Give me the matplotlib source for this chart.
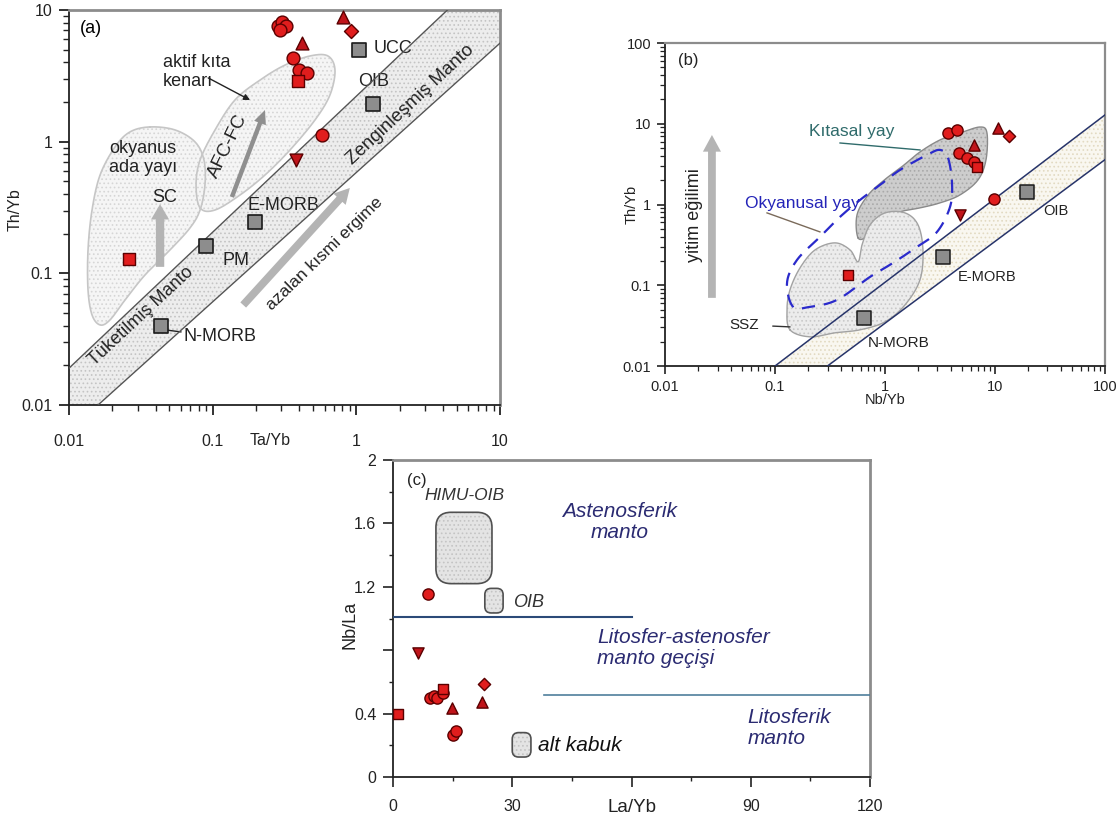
import numpy as np
import matplotlib
matplotlib.use("Agg")
import matplotlib.pyplot as plt
from matplotlib.patches import FancyBboxPatch
from matplotlib.transforms import blended_transform_factory

plt.rcParams['font.family'] = ['Liberation Sans', 'DejaVu Sans']
plt.rcParams['hatch.linewidth'] = 0.7

# ---------------- DATA ----------------
# Panel (a): Ta/Yb vs Th/Yb
a_circle_x = [0.285, 0.305, 0.325, 0.295, 0.36, 0.40, 0.45, 0.58]
a_circle_y = [7.5, 8.1, 7.6, 7.0, 4.3, 3.5, 3.3, 1.12]
a_square_x = [0.39, 0.026]
a_square_y = [2.9, 0.128]
a_triup_x = [0.81, 0.42]
a_triup_y = [8.85, 5.6]
a_tridown_x = [0.38]
a_tridown_y = [0.73]
a_diamond_x = [0.92]
a_diamond_y = [6.9]
a_ref_labels = ['UCC', 'OIB', 'E-MORB', 'PM', 'N-MORB']
a_ref_x = [1.04, 1.31, 0.197, 0.0897, 0.044]
a_ref_y = [5.0, 1.93, 0.245, 0.161, 0.040]

# Panel (b): Nb/Yb vs Th/Yb
b_circle_x = [3.74, 4.5, 4.7, 5.6, 6.4, 9.8]
b_circle_y = [7.7, 8.4, 4.35, 3.8, 3.4, 1.17]
b_square_x = [6.9, 0.46]
b_square_y = [2.9, 0.135]
b_triup_x = [10.6, 6.4]
b_triup_y = [8.9, 5.5]
b_tridown_x = [4.8]
b_tridown_y = [0.74]
b_diamond_x = [13.4]
b_diamond_y = [7.1]
b_ref_labels = ['OIB', 'E-MORB', 'N-MORB']
b_ref_x = [19.5, 3.37, 0.645]
b_ref_y = [1.43, 0.224, 0.0395]

# Panel (c): La/Yb vs Nb/La
c_circle_x = [8.8, 9.3, 10.2, 11.1, 12.6, 15.1, 15.8]
c_circle_y = [1.155, 0.50, 0.51, 0.50, 0.53, 0.265, 0.29]
c_square_x = [1.3, 12.6]
c_square_y = [0.40, 0.555]
c_triup_x = [14.8, 22.4]
c_triup_y = [0.435, 0.473]
c_tridown_x = [6.3]
c_tridown_y = [0.78]
c_diamond_x = [22.9]
c_diamond_y = [0.587]

# Field outlines (log10 coordinates for a & b)
a_ocean_lx = [-1.436, -1.262, -1.123, -1.061, -1.054, -1.088, -1.158, -1.297, -1.471, -1.610,
              -1.715, -1.784, -1.840, -1.868, -1.868, -1.840, -1.784, -1.680, -1.576]
a_ocean_ly = [0.112, 0.089, -0.002, -0.139, -0.329, -0.519, -0.655, -0.822, -1.012, -1.202,
              -1.354, -1.392, -1.316, -1.126, -0.822, -0.519, -0.253, -0.040, 0.074]
a_active_lx = [-1.088, -1.116, -1.088, -0.984, -0.845, -0.671, -0.497, -0.323, -0.198, -0.149,
               -0.184, -0.288, -0.462, -0.636, -0.810, -0.984]
a_active_ly = [-0.503, -0.329, -0.139, 0.089, 0.317, 0.468, 0.582, 0.651, 0.651, 0.544,
               0.355, 0.165, -0.063, -0.253, -0.405, -0.519]
a_upper_line = [(-2.0, -1.72), (0.633, 1.0)]
a_lower_line = [(-1.798, -2.0), (1.0, 0.749)]

b_cont_lx = [-0.245, -0.255, -0.155, -0.010, 0.164, 0.318, 0.500, 0.682, 0.864, 0.927,
             0.918, 0.845, 0.682, 0.500, 0.318, 0.136, -0.045, -0.155]
b_cont_ly = [-0.413, -0.130, 0.115, 0.300, 0.480, 0.651, 0.800, 0.886, 0.960, 0.886,
             0.552, 0.304, 0.119, 0.020, -0.042, -0.092, -0.215, -0.389]
b_ssz_lx = [-0.864, -0.891, -0.864, -0.773, -0.636, -0.455, -0.318, -0.245, -0.209, -0.136,
            0.000, 0.182, 0.300, 0.345, 0.318, 0.182, 0.000, -0.227, -0.455, -0.682]
b_ssz_ly = [-1.552, -1.304, -1.057, -0.785, -0.562, -0.475, -0.562, -0.710, -0.500, -0.252,
            -0.104, -0.104, -0.252, -0.562, -0.933, -1.243, -1.453, -1.552, -1.589, -1.639]
b_ocean_lx = [-0.836, -0.891, -0.800, -0.591, -0.409, -0.227, -0.045, 0.136, 0.382, 0.500,
              0.573, 0.609, 0.591, 0.473, 0.291, 0.073, -0.136, -0.436, -0.682]
b_ocean_ly = [-1.267, -0.970, -0.686, -0.401, -0.153, 0.057, 0.243, 0.428, 0.614, 0.676,
              0.577, 0.267, -0.030, -0.339, -0.525, -0.723, -0.896, -1.181, -1.267]
b_upper_line = [(-1.0, -2.0), (2.0, 1.11)]
b_lower_line = [(-0.523, -2.0), (2.0, 0.556)]

c_boxes = {'HIMU': (10.8, 1.22, 24.9, 1.67), 'OIB': (23.1, 1.035, 27.7, 1.19),
           'alt': (30.0, 0.126, 34.7, 0.28)}

RED = '#e11d1d'
RED_DARK = '#c0141a'
EDGE = '#5a0000'


def smooth_closed(lx, ly, n=16):
    P = np.column_stack([lx, ly]).astype(float)
    N = len(P)
    out = []
    t = np.linspace(0, 1, n, endpoint=False)[:, None]
    for i in range(N):
        p0, p1, p2, p3 = P[i - 1], P[i], P[(i + 1) % N], P[(i + 2) % N]
        out.append(0.5 * (2 * p1 + (-p0 + p2) * t + (2 * p0 - 5 * p1 + 4 * p2 - p3) * t ** 2
                          + (-p0 + 3 * p1 - 3 * p2 + p3) * t ** 3))
    out = np.vstack(out)
    return np.vstack([out, out[:1]])


def field(ax, lx, ly, fc, hc, ec, lw=1.0, ls='-', z=1, hatch='....'):
    pts = smooth_closed(lx, ly)
    X, Y = 10 ** pts[:, 0], 10 ** pts[:, 1]
    ax.fill(X, Y, facecolor=fc, edgecolor=hc, hatch=hatch, linewidth=0, zorder=z)
    ax.plot(X, Y, color=ec, lw=lw, ls=ls, zorder=z + 0.1)


def line_fn(seg):
    (x0, y0), (x1, y1) = seg
    m = (y1 - y0) / (x1 - x0)
    return lambda lx: y0 + m * (lx - x0)


def band(ax, up, lo, fc, hc, lc, lw):
    fu, fl = line_fn(up), line_fn(lo)
    lx = np.linspace(-3, 3, 200)
    ax.fill_between(10 ** lx, 10 ** fl(lx), 10 ** fu(lx), facecolor=fc, edgecolor=hc,
                    hatch='....', linewidth=0, zorder=1)
    ax.plot(10 ** lx, 10 ** fu(lx), color=lc, lw=lw, zorder=3.5)
    ax.plot(10 ** lx, 10 ** fl(lx), color=lc, lw=lw, zorder=3.5)


def samples(ax, d, s):
    ax.scatter(d['o'][0], d['o'][1], marker='o', s=s, c=RED, edgecolors=EDGE, linewidths=1, zorder=6)
    ax.scatter(d['s'][0], d['s'][1], marker='s', s=s * 0.85, c=RED, edgecolors=EDGE, linewidths=1, zorder=6)
    ax.scatter(d['^'][0], d['^'][1], marker='^', s=s, c=RED_DARK, edgecolors=EDGE, linewidths=1, zorder=6)
    ax.scatter(d['v'][0], d['v'][1], marker='v', s=s, c=RED_DARK, edgecolors=EDGE, linewidths=1, zorder=6)
    ax.scatter(d['D'][0], d['D'][1], marker='D', s=s * 0.6, c=RED, edgecolors=EDGE, linewidths=1, zorder=6)


def gray_arrow(ax, p0, p1, tw, hw, hl, color='#b4b4b4'):
    ax.annotate('', xy=p1, xytext=p0,
                arrowprops=dict(arrowstyle=f'simple,head_length={hl},head_width={hw},tail_width={tw}',
                                fc=color, ec='none', shrinkA=0, shrinkB=0, mutation_scale=20),
                zorder=4)


def style_spines(ax, lw_top=2.0):
    for s in ['top', 'right']:
        ax.spines[s].set_color('#8c8c8c')
        ax.spines[s].set_linewidth(lw_top)
    for s in ['left', 'bottom']:
        ax.spines[s].set_color('#222222')
        ax.spines[s].set_linewidth(1.3)


fig = plt.figure(figsize=(11.19, 8.21), dpi=100)

# ================= PANEL (a) =================
axA = fig.add_axes([0.0617, 0.5067, 0.3852, 0.4811])
axA.set_xscale('log'); axA.set_yscale('log')
axA.set_xlim(0.01, 10); axA.set_ylim(0.01, 10)
band(axA, a_upper_line, a_lower_line, '#ededed', '#c4c4c4', '#555555', 1.0)
field(axA, a_ocean_lx, a_ocean_ly, '#f5f5f5', '#d6d6d6', '#c6c6c6', lw=1.2, z=2)
field(axA, a_active_lx, a_active_ly, '#f5f5f5', '#d6d6d6', '#c6c6c6', lw=1.2, z=2)

gray_arrow(axA, (0.043, 0.112), (0.043, 0.335), 0.3, 0.65, 0.55)
gray_arrow(axA, (0.163, 0.0575), (0.90, 0.445), 0.28, 0.6, 0.55)
gray_arrow(axA, (0.136, 0.38), (0.231, 1.74), 0.16, 0.45, 0.5, color='#8f8f8f')

axA.scatter(a_ref_x, a_ref_y, marker='s', s=115, c='#8d8d8d', edgecolors='#1a1a1a', linewidths=1.2, zorder=5)
samples(axA, {'o': (a_circle_x, a_circle_y), 's': (a_square_x, a_square_y), '^': (a_triup_x, a_triup_y),
              'v': (a_tridown_x, a_tridown_y), 'D': (a_diamond_x, a_diamond_y)}, 85)

fs = 13
axA.text(0.025, 0.975, '(a)', transform=axA.transAxes, ha='left', va='top', fontsize=13)
axA.text(0.045, 3.4, 'aktif kıta\nkenarı', ha='left', va='center', fontsize=fs, linespacing=1.15, color='#222')
axA.annotate('', xy=(0.182, 2.07), xytext=(0.093, 3.05),
             arrowprops=dict(arrowstyle='-|>', color='#222', lw=1.0, mutation_scale=9, shrinkA=0, shrinkB=0))
axA.text(0.0327, 0.75, 'okyanus\nada yayı', ha='center', va='center', fontsize=fs, linespacing=1.15, color='#222')
axA.text(0.0466, 0.374, 'SC', ha='center', va='center', fontsize=fs, color='#222')
axA.text(0.145, 0.126, 'PM', ha='center', va='center', fontsize=fs, color='#222')
axA.text(0.176, 0.33, 'E-MORB', ha='left', va='center', fontsize=fs, color='#222')
axA.annotate('N-MORB', xy=(0.0466, 0.0372), xytext=(0.063, 0.0329), ha='left', va='center', fontsize=fs,
             color='#222', arrowprops=dict(arrowstyle='-', color='#222', lw=1.0, shrinkA=0, shrinkB=0))
axA.text(1.31, 5.06, 'UCC', ha='left', va='center', fontsize=fs, color='#222')
axA.text(1.31, 2.84, 'OIB', ha='center', va='center', fontsize=fs, color='#222')
axA.text(2.36, 1.9, 'Zenginleşmiş Manto', ha='center', va='center', fontsize=13.5, rotation=43,
         rotation_mode='anchor', color='#222')
axA.text(0.0317, 0.0475, 'Tüketilmiş Manto', ha='center', va='center', fontsize=13, rotation=43,
         rotation_mode='anchor', color='#222')
axA.text(0.60, 0.140, 'azalan kısmi ergime', ha='center', va='center', fontsize=12.5, rotation=44,
         rotation_mode='anchor', color='#222')
axA.text(0.128, 0.92, 'AFC-FC', ha='center', va='center', fontsize=13.5, rotation=64,
         rotation_mode='anchor', color='#222')

axA.set_xticks([0.01, 0.1, 1, 10], labels=['0.01', '0.1', '1', '10'])
axA.set_yticks([0.01, 0.1, 1, 10], labels=['0.01', '0.1', '1', '10'])
axA.xaxis.set_minor_formatter(matplotlib.ticker.NullFormatter())
axA.yaxis.set_minor_formatter(matplotlib.ticker.NullFormatter())
axA.tick_params(which='major', direction='out', length=7, width=1.3, labelsize=11.5, colors='#222')
axA.tick_params(axis='x', which='major', pad=14)
axA.tick_params(axis='y', which='major', pad=5)
axA.tick_params(which='minor', direction='out', length=4, width=1.0, colors='#222')
axA.text(0.25, -0.09, 'Ta/Yb', transform=blended_transform_factory(axA.transData, axA.transAxes),
         ha='center', va='center', fontsize=11.5, color='#222')
axA.text(-0.125, 0.494, 'Th/Yb', transform=axA.transAxes, rotation=90, ha='center', va='center', fontsize=11.5,
         color='#222')
style_spines(axA)

# ================= PANEL (b) =================
axB = fig.add_axes([0.5943, 0.5542, 0.3932, 0.3934])
axB.set_xscale('log'); axB.set_yscale('log')
axB.set_xlim(0.01, 100); axB.set_ylim(0.01, 100)
band(axB, b_upper_line, b_lower_line, '#f9f7f0', '#e2dac2', '#27346a', 1.1)
field(axB, b_cont_lx, b_cont_ly, '#cdcdcd', '#a9a9a9', '#8a8a8a', lw=1.0, z=2)
field(axB, b_ssz_lx, b_ssz_ly, '#ececec', '#c9c9c9', '#a2a2a2', lw=1.0, z=2.5)
pts = smooth_closed(b_ocean_lx, b_ocean_ly)
axB.plot(10 ** pts[:, 0], 10 ** pts[:, 1], color='#2a2acb', lw=1.6, dashes=(6, 4), zorder=4)

gray_arrow(axB, (0.0267, 0.0698), (0.0267, 7.26), 0.28, 0.65, 0.6)

axB.scatter(b_ref_x, b_ref_y, marker='s', s=95, c='#8d8d8d', edgecolors='#1a1a1a', linewidths=1.1, zorder=5)
samples(axB, {'o': (b_circle_x, b_circle_y), 's': (b_square_x, b_square_y), '^': (b_triup_x, b_triup_y),
              'v': (b_tridown_x, b_tridown_y), 'D': (b_diamond_x, b_diamond_y)}, 65)

axB.text(0.03, 0.97, '(b)', transform=axB.transAxes, ha='left', va='top', fontsize=12, color='#222')
axB.text(0.501, 7.93, 'Kıtasal yay', ha='center', va='center', fontsize=12.5, color='#2f6b6b')
axB.plot([0.39, 2.08], [5.78, 4.74], color='#2f6b6b', lw=1.0, zorder=4)
axB.text(0.176, 1.02, 'Okyanusal yay', ha='center', va='center', fontsize=12.5, color='#2424b8', zorder=7)
axB.plot([0.0846, 0.256], [0.787, 0.458], color='#7a6a5a', lw=1.0, zorder=4)
axB.text(0.0187, 0.75, 'yitim eğilimi', ha='center', va='center', fontsize=13, rotation=90, color='#222')
axB.annotate('SSZ', xy=(0.137, 0.0305), xytext=(0.0523, 0.0324), ha='center', va='center', fontsize=11,
             color='#222', arrowprops=dict(arrowstyle='-', color='#333', lw=1.0, shrinkA=8, shrinkB=0))
axB.text(8.45, 0.127, 'E-MORB', ha='center', va='center', fontsize=10.5, color='#222')
axB.text(1.34, 0.0194, 'N-MORB', ha='center', va='center', fontsize=11, color='#222')
axB.text(35.9, 0.834, 'OIB', ha='center', va='center', fontsize=10.5, color='#222')

axB.set_xticks([0.01, 0.1, 1, 10, 100], labels=['0.01', '0.1', '1', '10', '100'])
axB.set_yticks([0.01, 0.1, 1, 10, 100], labels=['0.01', '0.1', '1', '10', '100'])
axB.xaxis.set_minor_formatter(matplotlib.ticker.NullFormatter())
axB.yaxis.set_minor_formatter(matplotlib.ticker.NullFormatter())
axB.tick_params(which='major', direction='out', length=6, width=1.2, labelsize=10.5, pad=4, colors='#222')
axB.tick_params(which='minor', direction='out', length=3.5, width=0.9, colors='#222')
axB.text(0.5, -0.105, 'Nb/Yb', transform=axB.transAxes, ha='center', va='center', fontsize=10.5, color='#222')
axB.text(-0.075, 0.50, 'Th/Yb', transform=axB.transAxes, rotation=90, ha='center', va='center',
         fontsize=10.5, color='#222')
style_spines(axB, lw_top=1.6)

# ================= PANEL (c) =================
axC = fig.add_axes([0.3512, 0.0536, 0.4263, 0.3861])
axC.set_xlim(0, 120); axC.set_ylim(0, 2)
asp = (2 / 317) / (120 / 477)
radii = {'HIMU': 3.8, 'OIB': 1.6, 'alt': 1.6}
for k, (x0, y0, x1, y1) in c_boxes.items():
    r = radii[k]
    axC.add_patch(FancyBboxPatch((x0, y0), x1 - x0, y1 - y0, boxstyle=f'round,pad=0,rounding_size={r}',
                                 mutation_aspect=asp, facecolor='#e4e4e4', edgecolor='#c4c4c4', hatch='....',
                                 linewidth=0, zorder=2))
    axC.add_patch(FancyBboxPatch((x0, y0), x1 - x0, y1 - y0, boxstyle=f'round,pad=0,rounding_size={r}',
                                 mutation_aspect=asp, facecolor='none', edgecolor='#505050',
                                 linewidth=1.2, zorder=2.1))
axC.plot([0, 60], [1.01, 1.01], color='#2b4a78', lw=1.5, zorder=3)
axC.plot([38, 120], [0.517, 0.517], color='#4f7f9c', lw=1.2, zorder=3)

samples(axC, {'o': (c_circle_x, c_circle_y), 's': (c_square_x, c_square_y), '^': (c_triup_x, c_triup_y),
              'v': (c_tridown_x, c_tridown_y), 'D': (c_diamond_x, c_diamond_y)}, 65)

navy = '#2b2b72'
axC.text(0.03, 0.96, '(c)', transform=axC.transAxes, ha='left', va='top', fontsize=12, color='#222')
axC.text(18.1, 1.773, 'HIMU-OIB', ha='center', va='center', fontsize=12.5, style='italic', color='#333')
axC.text(34.0, 1.098, 'OIB', ha='center', va='center', fontsize=13, style='italic', color='#333')
axC.text(47.0, 0.196, 'alt kabuk', ha='center', va='center', fontsize=15, style='italic', color='#111')
axC.text(57.1, 1.609, 'Astenosferik\nmanto', ha='center', va='center', fontsize=15, style='italic',
         color=navy, linespacing=1.1)
axC.text(51.3, 0.814, 'Litosfer-astenosfer\nmanto geçişi', ha='left', va='center', fontsize=15,
         style='italic', color=navy, linespacing=1.1)
axC.text(89.1, 0.309, 'Litosferik\nmanto', ha='left', va='center', fontsize=15, style='italic',
         color=navy, linespacing=1.1)

axC.set_xticks([0, 30, 60, 90, 120], labels=['0', '30', 'La/Yb', '90', '120'])
axC.set_xticks([15, 45, 75, 105], minor=True)
axC.set_yticks([0, 0.4, 0.8, 1.2, 1.6, 2.0], labels=['0', '0.4', '', '1.2', '1.6', '2'])
axC.set_yticks([0.2, 0.6, 1.0, 1.4, 1.8], minor=True)
axC.tick_params(which='major', direction='out', length=7, width=1.2, labelsize=11.5, colors='#222')
axC.tick_params(axis='x', which='major', pad=9)
axC.tick_params(axis='y', which='major', pad=5)
axC.tick_params(which='minor', direction='out', length=3, width=1.0, colors='#222')
axC.get_xticklabels()[2].set_fontsize(13.5)
axC.text(-0.09, 0.48, 'Nb/La', transform=axC.transAxes, rotation=90, ha='center', va='center', fontsize=13,
         color='#222')
style_spines(axC)

fig.savefig('out.png', dpi=100)
